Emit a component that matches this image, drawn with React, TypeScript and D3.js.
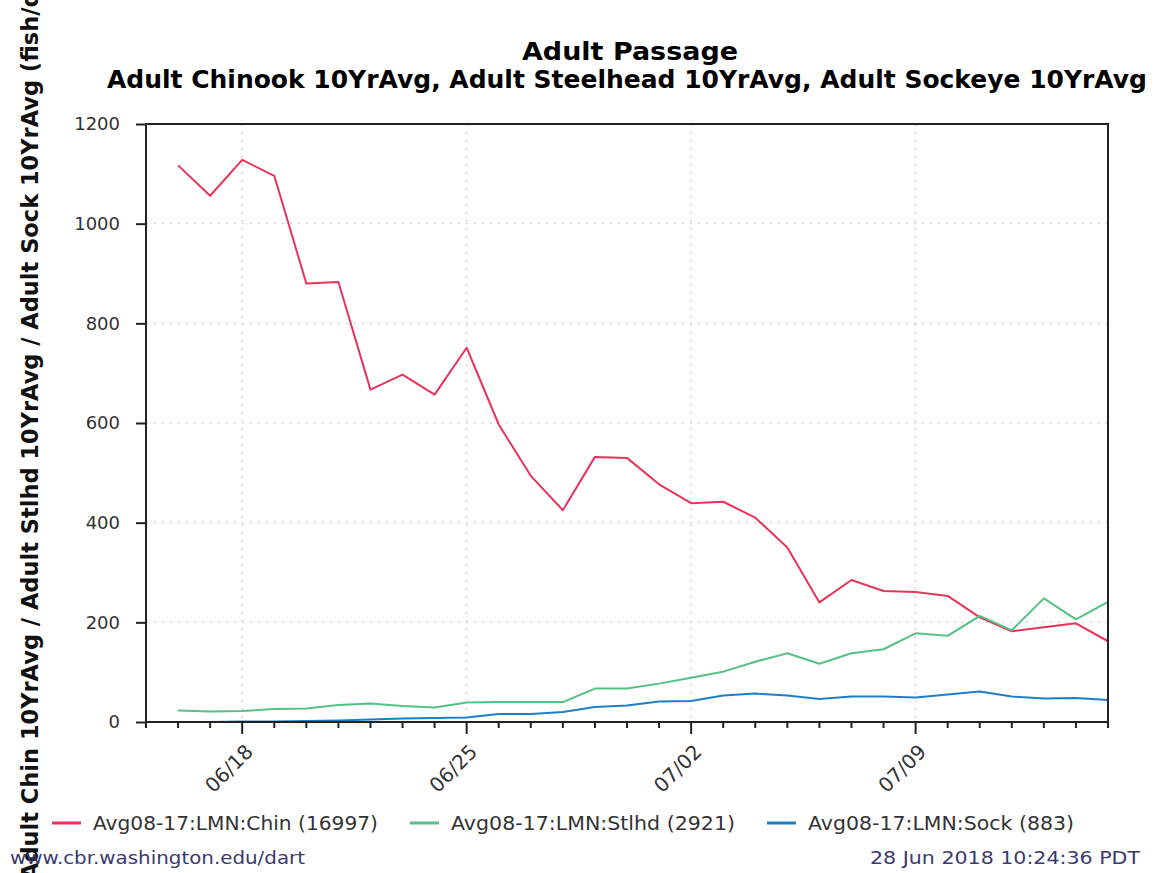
import { useEffect, useRef } from 'react'
import * as d3 from 'd3'

// daily 10-year averages, 06/16 .. 07/15 (2018 calendar)
const START_DAY = new Date(2018, 5, 16)
const chinook = [
  1117, 1056, 1128, 1096, 880, 883, 667, 697, 657, 751,
  597, 494, 425, 532, 530, 477, 439, 442, 410, 350,
  240, 285, 263, 261, 253, 210, 182, 190, 198, 162,
]
const steelhead = [
  23, 21, 22, 26, 27, 34, 37, 32, 29, 39,
  40, 40, 40, 67, 67, 77, 89, 101, 121, 138,
  117, 138, 146, 178, 173, 213, 184, 248, 206, 241,
]
const sockeye = [
  0, 0, 1, 1, 2, 3, 5, 7, 8, 9,
  16, 16, 20, 30, 33, 41, 42, 53, 57, 53,
  46, 51, 51, 49, 55, 61, 51, 47, 48, 44,
]
const yTicks = [0, 200, 400, 600, 800, 1000, 1200]
const majorDates = ['06/18', '06/25', '07/02', '07/09']

const series = [
  { name: 'Avg08-17:LMN:Chin (16997)', values: chinook, color: '#e8335a' },
  { name: 'Avg08-17:LMN:Stlhd (2921)', values: steelhead, color: '#55c184' },
  { name: 'Avg08-17:LMN:Sock (883)', values: sockeye, color: '#1e7fc8' },
]

const W = 1157
const H = 873
const left = 146
const right = 1108
const top = 124
const bottom = 722

export default function App() {
  const svgRef = useRef<SVGSVGElement>(null)

  useEffect(() => {
    if (!svgRef.current) return
    const svg = d3.select(svgRef.current)
    svg.selectAll('*').remove()

    const dates = chinook.map((_, i) => d3.timeDay.offset(START_DAY, i))
    const x = d3.scaleTime([new Date(2018, 5, 15), new Date(2018, 6, 15)], [left, right])
    const y = d3.scaleLinear([0, 1200], [bottom, top])
    const majors = majorDates.map((s) => {
      const [m, d] = s.split('/').map(Number)
      return new Date(2018, m - 1, d)
    })

    svg.append('rect').attr('width', W).attr('height', H).attr('fill', '#fff')

    // titles
    svg
      .append('text')
      .attr('x', 630)
      .attr('y', 60)
      .attr('text-anchor', 'middle')
      .attr('font-family', 'DejaVu Sans')
      .attr('font-weight', 'bold')
      .attr('font-size', 25)
      .attr('textLength', 216)
      .attr('lengthAdjust', 'spacingAndGlyphs')
      .text('Adult Passage')
    svg
      .append('text')
      .attr('x', 627)
      .attr('y', 88)
      .attr('text-anchor', 'middle')
      .attr('font-family', 'DejaVu Sans')
      .attr('font-weight', 'bold')
      .attr('font-size', 25)
      .attr('textLength', 1040)
      .attr('lengthAdjust', 'spacingAndGlyphs')
      .text('Adult Chinook 10YrAvg, Adult Steelhead 10YrAvg, Adult Sockeye 10YrAvg')

    // gridlines
    const grid = svg.append('g').attr('stroke', '#c4c4c4').attr('stroke-dasharray', '2,6')
    grid
      .selectAll('line.h')
      .data(yTicks.slice(1, -1))
      .join('line')
      .attr('class', 'h')
      .attr('x1', left)
      .attr('x2', right)
      .attr('y1', (d) => y(d))
      .attr('y2', (d) => y(d))
    grid
      .selectAll('line.v')
      .data(majors)
      .join('line')
      .attr('class', 'v')
      .attr('x1', (d) => x(d))
      .attr('x2', (d) => x(d))
      .attr('y1', top)
      .attr('y2', bottom)

    // series lines
    svg
      .append('defs')
      .append('clipPath')
      .attr('id', 'plot')
      .append('rect')
      .attr('x', left)
      .attr('y', top)
      .attr('width', right - left)
      .attr('height', bottom - top)
    series.forEach((s) => {
      const line = d3
        .line<number>()
        .x((_, i) => x(dates[i]))
        .y((d) => y(d))
      svg
        .append('path')
        .attr('clip-path', 'url(#plot)')
        .attr('d', line(s.values))
        .attr('fill', 'none')
        .attr('stroke', s.color)
        .attr('stroke-width', 2)
        .attr('stroke-linejoin', 'round')
    })

    // frame
    svg
      .append('rect')
      .attr('x', left)
      .attr('y', top)
      .attr('width', right - left)
      .attr('height', bottom - top)
      .attr('fill', 'none')
      .attr('stroke', '#222')
      .attr('stroke-width', 2)

    // y axis
    const yAxis = d3
      .axisLeft(y)
      .tickValues(yTicks)
      .tickSize(10)
      .tickPadding(16)
      .tickFormat(d3.format('d'))
    const gy = svg.append('g').attr('transform', `translate(${left},0)`).call(yAxis)
    gy.select('.domain').remove()
    gy.selectAll('line').attr('stroke', '#222').attr('stroke-width', 2)
    gy.selectAll('text')
      .attr('font-family', 'DejaVu Sans')
      .attr('font-size', 18)
      .attr('fill', '#333')

    // x axis: daily minor ticks, weekly labels
    const gx = svg.append('g').attr('transform', `translate(0,${bottom})`)
    gx.selectAll('line.minor')
      .data(d3.timeDay.range(new Date(2018, 5, 15), new Date(2018, 6, 16)))
      .join('line')
      .attr('x1', (d) => x(d))
      .attr('x2', (d) => x(d))
      .attr('y1', 0)
      .attr('y2', (d) => (majors.some((m) => +m === +d) ? 12 : 6))
      .attr('stroke', '#222')
      .attr('stroke-width', 2)
    gx.selectAll('text')
      .data(majors)
      .join('text')
      .attr('transform', (d) => `translate(${x(d) + 7},${26}) rotate(-45)`)
      .attr('text-anchor', 'end')
      .attr('dy', '0.35em')
      .attr('font-family', 'DejaVu Sans')
      .attr('font-size', 20)
      .attr('fill', '#333')
      .text((_, i) => majorDates[i])

    // y axis title (runs past both edges, as in the original image)
    svg
      .append('text')
      .attr('transform', `translate(38,416) rotate(-90)`)
      .attr('text-anchor', 'middle')
      .attr('font-family', 'DejaVu Sans')
      .attr('font-weight', 'bold')
      .attr('font-size', 22.5)
      .attr('fill', '#111')
      .text('Adult Chin 10YrAvg / Adult Stlhd 10YrAvg / Adult Sock 10YrAvg (fish/day)')

    // legend
    const legendX = [52, 410, 767]
    const legendLen = [285, 284, 266]
    const lg = svg
      .append('g')
      .selectAll('g')
      .data(series)
      .join('g')
      .attr('transform', (_, i) => `translate(${legendX[i]},823)`)
    lg.append('line')
      .attr('x1', 0)
      .attr('x2', 29)
      .attr('stroke', (d) => d.color)
      .attr('stroke-width', 3)
    lg.append('text')
      .attr('x', 41)
      .attr('dy', '0.36em')
      .attr('font-family', 'DejaVu Sans')
      .attr('font-size', 19)
      .attr('textLength', (_, i) => legendLen[i])
      .attr('lengthAdjust', 'spacingAndGlyphs')
      .attr('fill', '#333')
      .text((d) => d.name)

    // footer
    svg
      .append('text')
      .attr('x', 10)
      .attr('y', 864)
      .attr('font-family', 'DejaVu Sans')
      .attr('font-size', 18)
      .attr('textLength', 295)
      .attr('lengthAdjust', 'spacingAndGlyphs')
      .attr('fill', '#3a3a6e')
      .text('www.cbr.washington.edu/dart')
    svg
      .append('text')
      .attr('x', 870)
      .attr('y', 864)
      .attr('font-family', 'DejaVu Sans')
      .attr('font-size', 18)
      .attr('textLength', 270)
      .attr('lengthAdjust', 'spacingAndGlyphs')
      .attr('fill', '#3a3a6e')
      .text('28 Jun 2018 10:24:36 PDT')
  }, [])

  return (
    <div style={{ position: 'absolute', left: 0, top: 0 }}>
      <svg ref={svgRef} width={W} height={H} style={{ display: 'block' }} />
    </div>
  )
}
